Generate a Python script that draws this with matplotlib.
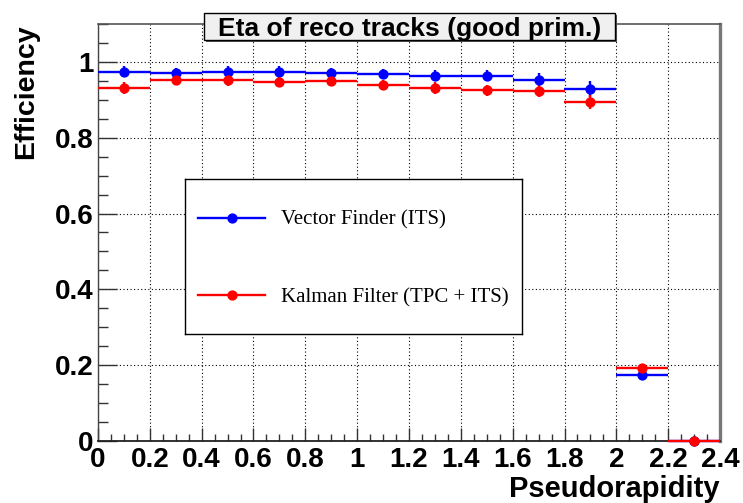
import matplotlib
matplotlib.use("Agg")
import matplotlib.pyplot as plt
from matplotlib.patches import Rectangle
import numpy as np

# Pseudorapidity bins (width 0.2)
bin_edges = [0.0, 0.2, 0.4, 0.6, 0.8, 1.0, 1.2, 1.4, 1.6, 1.8, 2.0, 2.2, 2.4]

# Efficiency of the Vector Finder (ITS)
vf_eff = [0.974, 0.970, 0.974, 0.974, 0.970, 0.968, 0.964, 0.964, 0.953, 0.928, 0.173, 0.0]
vf_err = [0.015, 0.015, 0.014, 0.014, 0.014, 0.014, 0.015, 0.015, 0.017, 0.021, 0.005, 0.0]

# Efficiency of the Kalman Filter (TPC + ITS)
kf_eff = [0.931, 0.952, 0.951, 0.948, 0.950, 0.939, 0.931, 0.925, 0.923, 0.895, 0.192, 0.0]
kf_err = [0.015, 0.014, 0.014, 0.014, 0.014, 0.014, 0.015, 0.015, 0.015, 0.018, 0.005, 0.0]

series_labels = ["Vector Finder (ITS)", "Kalman Filter (TPC + ITS)"]
title_text = "Eta of reco tracks (good prim.)"
x_title = "Pseudorapidity"
y_title = "Efficiency"
x_ticks = [0.0, 0.2, 0.4, 0.6, 0.8, 1.0, 1.2, 1.4, 1.6, 1.8, 2.0, 2.2, 2.4]
x_ticklabels = ["0", "0.2", "0.4", "0.6", "0.8", "1", "1.2", "1.4", "1.6", "1.8", "2", "2.2", "2.4"]
y_ticks = [0.0, 0.2, 0.4, 0.6, 0.8, 1.0]
y_ticklabels = ["0", "0.2", "0.4", "0.6", "0.8", "1"]

W, H = 743, 503
fig = plt.figure(figsize=(W / 100, H / 100), dpi=100)
fig.patch.set_facecolor("white")

SANS = "Liberation Sans"
SERIF = "Liberation Serif"

# main frame in pixel geometry
x0, x1, ytop, ybot = 98, 720, 24, 441
ax = fig.add_axes([x0 / W, (H - ybot) / H, (x1 - x0) / W, (ybot - ytop) / H])
ax.set_xlim(0, 2.4)
ax.set_ylim(0, 1.1)

edges = np.array(bin_edges)
centers = 0.5 * (edges[:-1] + edges[1:])
half = 0.5 * np.diff(edges)

for eff, err, col in [(vf_eff, vf_err, "#0000ff"), (kf_eff, kf_err, "#ff0000")]:
    ax.errorbar(centers, eff, xerr=half, yerr=err, fmt="o", color=col,
                ms=6.4, lw=1.7, elinewidth=1.7, capsize=0, zorder=3,
                clip_on=False)

# ticks
ax.set_xticks(x_ticks)
ax.set_xticklabels(x_ticklabels)
ax.set_yticks(y_ticks)
ax.set_yticklabels(y_ticklabels)
ax.set_xticks(np.arange(0, 2.4001, 0.05), minor=True)
ax.set_yticks(np.arange(0, 1.1001, 0.05), minor=True)
ax.tick_params(axis="y", which="major", direction="in", length=13.5, width=1.0,
               color="#333333", pad=3.5)
ax.tick_params(axis="y", which="minor", direction="in", length=7.2, width=1.0,
               color="#333333")
ax.tick_params(axis="x", which="major", direction="in", length=9.5, width=1.0,
               color="#333333", pad=4)
ax.tick_params(axis="x", which="minor", direction="in", length=5, width=1.0,
               color="#333333")
for lab in ax.get_xticklabels() + ax.get_yticklabels():
    lab.set_fontfamily(SANS)
    lab.set_fontweight("bold")
    lab.set_fontsize(20)

# dotted grid at major ticks
ax.grid(True, which="major", color="black", linestyle=(0, (1, 2.2)), lw=0.8)
ax.set_axisbelow(True)

# frame
ax.spines["left"].set_color("#444444")
ax.spines["left"].set_linewidth(1.0)
ax.spines["bottom"].set_color("#222222")
ax.spines["bottom"].set_linewidth(1.3)
ax.spines["top"].set_color("#555555")
ax.spines["top"].set_linewidth(1.2)
ax.spines["right"].set_color("#777777")
ax.spines["right"].set_linewidth(2.4)

# axis titles
fig.text(x1 / W, 1 - 497 / H, x_title, ha="right", va="baseline",
         fontfamily=SANS, fontweight="bold", fontsize=21)
fig.text(13 / W, 1 - ytop / H, y_title, ha="left", va="top", rotation=90,
         fontfamily=SANS, fontweight="bold", fontsize=20.5)

# title box with shadow
bx0, by0, bx1, by1 = 204, 13, 615, 40
fig.patches.append(Rectangle(((bx0 + 2) / W, 1 - (by1 + 2) / H), (bx1 - bx0) / W,
                             (by1 - by0) / H, transform=fig.transFigure,
                             facecolor="#555555", edgecolor="none", zorder=5))
fig.patches.append(Rectangle((bx0 / W, 1 - by1 / H), (bx1 - bx0) / W,
                             (by1 - by0) / H, transform=fig.transFigure,
                             facecolor="#f0f0f0", edgecolor="black", lw=1.0,
                             zorder=6))
fig.text((bx0 + bx1) / 2 / W, 1 - (by0 + by1) / 2 / H, title_text,
         ha="center", va="center_baseline", fontfamily=SANS, fontweight="bold",
         fontsize=19, zorder=7)

# legend panel
lx0, ly0, lx1, ly1 = 185, 179, 522, 334
lax = fig.add_axes([lx0 / W, (H - ly1) / H, (lx1 - lx0) / W, (ly1 - ly0) / H])
lax.set_xlim(0, 1)
lax.set_ylim(0, 1)
lax.set_xticks([])
lax.set_yticks([])
lax.set_facecolor("white")
for sp in lax.spines.values():
    sp.set_color("black")
    sp.set_linewidth(1.0)
lax.set_zorder(10)
for ypos, col, label in [(0.75, "#0000ff", series_labels[0]),
                         (0.25, "#ff0000", series_labels[1])]:
    lax.plot([0.039, 0.237], [ypos, ypos], color=col, lw=1.7)
    lax.plot([0.138], [ypos], "o", color=col, ms=6.4)
    lax.text(0.284, ypos, label, ha="left", va="center_baseline",
             fontfamily=SERIF, fontsize=15)

fig.savefig("out.png", dpi=100, facecolor="white")
